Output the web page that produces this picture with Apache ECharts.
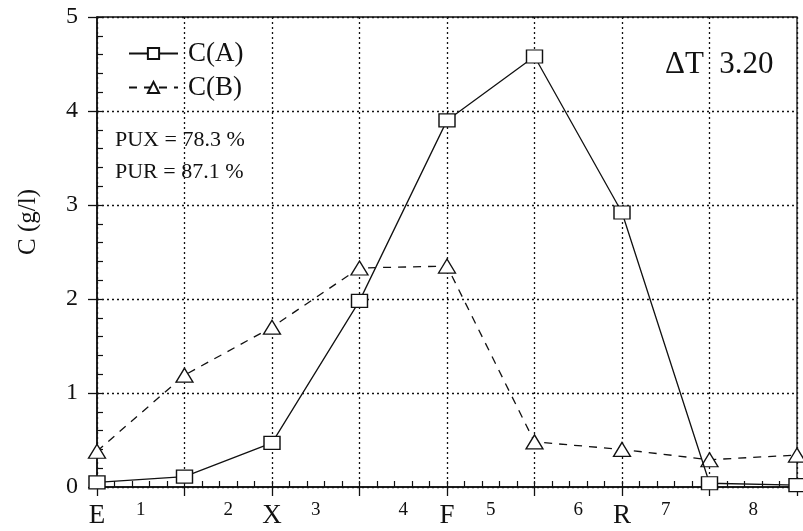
<!DOCTYPE html>
<html>
<head>
<meta charset="utf-8">
<script src="https://cdn.jsdelivr.net/npm/echarts@6/dist/echarts.min.js"></script>
<style>
  html, body { margin: 0; padding: 0; background: #fff; }
  #chart { width: 803px; height: 531px; }
</style>
</head>
<body>
<div id="chart"></div>
<script>
// data
const positions = [0, 1, 2, 3, 4, 5, 6, 7, 8]
const seriesA = [0.05, 0.11, 0.47, 1.98, 3.9, 4.58, 2.92, 0.04, 0.02]
const seriesB = [0.38, 1.19, 1.7, 2.33, 2.35, 0.48, 0.4, 0.29, 0.34]
const letterLabels = { 0: 'E', 2: 'X', 4: 'F', 6: 'R' }
const numberLabels = { 0.5: '1', 1.5: '2', 2.5: '3', 3.5: '4', 4.5: '5', 5.5: '6', 6.5: '7', 7.5: '8' }
const yTicks = [0, 1, 2, 3, 4, 5]

const font = '"Liberation Serif", "DejaVu Serif", serif'
const ink = '#111'

const chart = echarts.init(document.getElementById('chart'))

const dotted = { show: true, lineStyle: { color: ink, type: [2, 3], width: 1.3 } }

const option = {
  animation: false,
  backgroundColor: '#fff',
  grid: {
    left: 97, right: 6, top: 17, bottom: 44,
    outerBoundsMode: 'none', containLabel: false,
    show: true, borderColor: ink, borderWidth: 1.3, backgroundColor: 'transparent'
  },
  legend: {
    left: 128, top: 40, orient: 'vertical', padding: 0,
    itemWidth: 49, itemHeight: 14, itemGap: 7,
    textStyle: { fontFamily: font, fontSize: 27, color: ink, padding: [0, 0, 0, 5] },
    data: ['C(A)', 'C(B)']
  },
  xAxis: [
    {
      type: 'value', position: 'bottom', min: 0, max: 8, interval: 1,
      axisLine: { show: true, lineStyle: { color: ink, width: 1.6 } },
      axisTick: { show: true, inside: false, length: 9, lineStyle: { color: ink, width: 1.3 } },
      axisLabel: { show: false },
      splitLine: dotted
    },
    {
      type: 'value', position: 'bottom', min: 0, max: 8, interval: 1,
      axisLine: { show: false },
      axisTick: { show: true, inside: true, length: 6, lineStyle: { color: ink, width: 1.2 } },
      minorTick: { show: true, splitNumber: 5, length: 6, lineStyle: { color: ink, width: 1.2 } },
      axisLabel: {
        margin: 15, fontFamily: font, fontSize: 27, color: ink,
        formatter: v => letterLabels[v] || ''
      },
      splitLine: { show: false }
    },
    {
      type: 'value', position: 'bottom', min: 0, max: 8, interval: 0.5,
      axisLine: { show: false },
      axisTick: { show: false },
      axisLabel: {
        margin: 14, fontFamily: font, fontSize: 19, color: ink,
        formatter: v => numberLabels[v] || ''
      },
      splitLine: { show: false }
    }
  ],
  yAxis: [
    {
      type: 'value', position: 'left', min: 0, max: 5, interval: 1,
      axisLine: { show: true, lineStyle: { color: ink, width: 1.6 } },
      axisTick: { show: true, inside: false, length: 9, lineStyle: { color: ink, width: 1.3 } },
      axisLabel: {
        margin: 19, fontFamily: font, fontSize: 24, color: ink,
        formatter: v => yTicks.includes(v) ? String(v) : ''
      },
      splitLine: dotted
    },
    {
      type: 'value', position: 'left', min: 0, max: 5, interval: 1,
      axisLine: { show: false },
      axisTick: { show: true, inside: true, length: 6, lineStyle: { color: ink, width: 1.2 } },
      minorTick: { show: true, splitNumber: 5, length: 6, lineStyle: { color: ink, width: 1.2 } },
      axisLabel: { show: false },
      splitLine: { show: false }
    }
  ],
  graphic: [
    {
      type: 'text', x: 28, y: 222, rotation: Math.PI / 2,
      style: { text: 'C (g/l)', fontFamily: font, fontSize: 25, fill: ink, align: 'center', verticalAlign: 'middle' }
    },
    {
      type: 'text', left: 115, top: 129,
      style: { text: 'PUX = 78.3 %', fontFamily: font, fontSize: 22, fill: ink }
    },
    {
      type: 'text', left: 115, top: 161,
      style: { text: 'PUR = 87.1 %', fontFamily: font, fontSize: 22, fill: ink }
    },
    {
      type: 'text', left: 665, top: 49,
      style: { text: 'ΔT  3.20', fontFamily: font, fontSize: 31, fill: ink }
    }
  ],
  series: [
    {
      name: 'C(A)', type: 'line',
      data: positions.map((x, i) => [x, seriesA[i]]),
      symbol: 'rect', symbolSize: [16, 13], showAllSymbol: true,
      lineStyle: { color: ink, width: 1.3 },
      itemStyle: { color: '#fff', borderColor: ink, borderWidth: 1.3 },
      z: 5
    },
    {
      name: 'C(B)', type: 'line',
      data: positions.map((x, i) => [x, seriesB[i]]),
      symbol: 'triangle', symbolSize: [17, 14], showAllSymbol: true,
      lineStyle: { color: ink, width: 1.3, type: [8, 7] },
      itemStyle: { color: '#fff', borderColor: ink, borderWidth: 1.3 },
      z: 4
    }
  ]
}

chart.setOption(option)
</script>
</body>
</html>
